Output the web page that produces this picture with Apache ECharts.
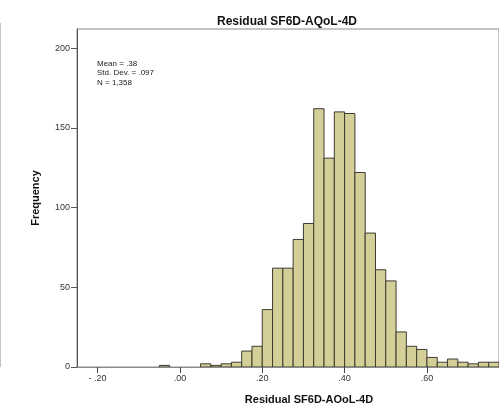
<!DOCTYPE html>
<html>
<head>
<meta charset="utf-8">
<script src="https://cdn.jsdelivr.net/npm/echarts@6/dist/echarts.min.js"></script>
<style>
  html, body { margin: 0; padding: 0; background: #fff; }
  #chart { width: 499px; height: 403px; }
</style>
</head>
<body>
<div id="chart"></div>
<script>
// Histogram bins of the residual (lower / upper bin edges) and their frequencies
const binLower = [-0.05, 0.05, 0.075, 0.1, 0.125, 0.15, 0.175, 0.2, 0.225, 0.25, 0.275, 0.3, 0.325, 0.35, 0.375,
                  0.4, 0.425, 0.45, 0.475, 0.5, 0.525, 0.55, 0.575, 0.6, 0.625, 0.65, 0.675, 0.7, 0.725, 0.75];
const binUpper = [-0.025, 0.075, 0.1, 0.125, 0.15, 0.175, 0.2, 0.225, 0.25, 0.275, 0.3, 0.325, 0.35, 0.375, 0.4,
                  0.425, 0.45, 0.475, 0.5, 0.525, 0.55, 0.575, 0.6, 0.625, 0.65, 0.675, 0.7, 0.725, 0.75, 0.775];
const counts   = [1, 2, 1, 2, 3, 10, 13, 36, 62, 62, 80, 90, 162, 131, 160,
                  159, 122, 84, 61, 54, 22, 13, 11, 6, 3, 5, 3, 2, 3, 3];

const xTicks = [-0.2, 0, 0.2, 0.4, 0.6];
const yTicks = [0, 50, 100, 150, 200];
const statsLines = ['Mean = .38', 'Std. Dev. = .097', 'N = 1,358'];

const chartTitle = 'Residual SF6D-AQoL-4D';
const xName = 'Residual SF6D-AQoL-4D';
const yName = 'Frequency';

// SPSS-style number format: no leading zero
function fmt(v) {
  const s = Math.abs(v).toFixed(2).replace(/^0/, '');
  return v < 0 ? '- ' + s : s;
}

const FONT = '"Liberation Sans", Arial, sans-serif';

const data = binLower.map((lo, i) => [lo, binUpper[i], counts[i]]);

const chart = echarts.init(document.getElementById('chart'), null, { renderer: 'canvas' });

chart.setOption({
  animation: false,
  backgroundColor: '#fff',
  title: [
    {
      text: chartTitle,
      left: 282, top: 11, textAlign: 'center',
      textStyle: { fontFamily: FONT, fontSize: 12, fontWeight: 'bold', color: '#111' }
    },
    {
      text: xName,
      left: 304, top: 389, textAlign: 'center',
      textStyle: { fontFamily: FONT, fontSize: 11, fontWeight: 'bold', color: '#111' }
    }
  ],
  grid: {
    left: 77, top: 29, width: 425, height: 338,
    show: true, borderColor: '#8a8a8a', borderWidth: 1, backgroundColor: 'transparent'
  },
  xAxis: {
    type: 'value',
    min: -0.25, max: 0.775,
    splitLine: { show: false },
    axisLine: { show: true, lineStyle: { color: '#8a8a8a', width: 1 } },
    axisTick: { show: true, length: 6, customValues: xTicks, lineStyle: { color: '#444' } },
    axisLabel: {
      customValues: xTicks, margin: 7,
      formatter: fmt,
      fontFamily: FONT, fontSize: 9, color: '#333'
    }
  },
  yAxis: {
    type: 'value',
    min: 0, max: 212,
    name: yName, nameLocation: 'middle', nameGap: 36, nameRotate: 90,
    nameTextStyle: { fontFamily: FONT, fontSize: 11, fontWeight: 'bold', color: '#111' },
    splitLine: { show: false },
    axisLine: { show: true, onZero: false, lineStyle: { color: '#555', width: 1 } },
    axisTick: { show: true, length: 6, customValues: yTicks, lineStyle: { color: '#555' } },
    axisLabel: {
      customValues: yTicks, margin: 7,
      fontFamily: FONT, fontSize: 9, color: '#333'
    }
  },
  graphic: [
    {
      type: 'line',
      shape: { x1: 0.5, y1: 23, x2: 0.5, y2: 367 },
      style: { stroke: '#c4c4c4', lineWidth: 1 },
      silent: true
    },
    {
      type: 'text',
      left: 97, top: 59,
      style: {
        text: statsLines.join('\n'),
        font: '8px ' + FONT,
        lineHeight: 9.5,
        fill: '#222'
      },
      silent: true
    }
  ],
  series: [{
    type: 'custom',
    clip: true,
    data: data,
    encode: { x: [0, 1], y: 2 },
    renderItem: function (params, api) {
      const p0 = api.coord([api.value(0), 0]);
      const p1 = api.coord([api.value(1), api.value(2)]);
      return {
        type: 'rect',
        shape: { x: p0[0], y: p1[1], width: p1[0] - p0[0], height: p0[1] - p1[1] },
        style: { fill: '#d4cf98', stroke: '#3c3c30', lineWidth: 1 }
      };
    }
  }]
});
</script>
</body>
</html>
